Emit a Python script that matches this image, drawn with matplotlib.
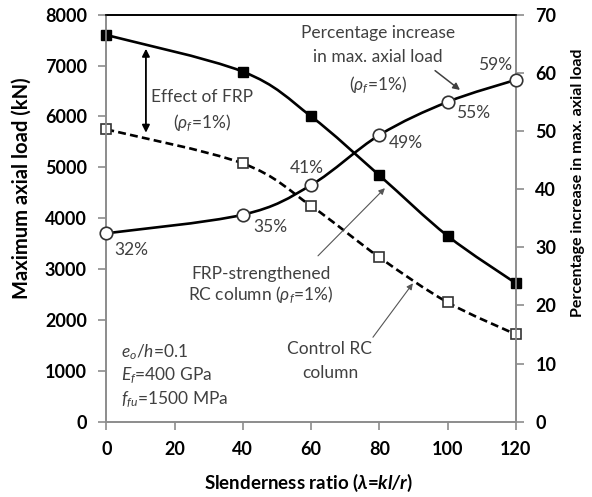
import matplotlib
matplotlib.use("Agg")
import matplotlib.pyplot as plt
from matplotlib.path import Path
from matplotlib.patches import PathPatch
import numpy as np

plt.rcParams["font.family"] = ["Lato", "DejaVu Sans"]
plt.rcParams["mathtext.fontset"] = "custom"
plt.rcParams["mathtext.rm"] = "Lato"
plt.rcParams["mathtext.it"] = "Lato:italic"
plt.rcParams["mathtext.bf"] = "Lato:bold"
plt.rcParams["mathtext.bfit"] = "Lato:bold:italic"

# data
slenderness = [0, 40, 60, 80, 100, 120]
frp_load = [7600, 6880, 6000, 4840, 3650, 2720]
control_load = [5745, 5075, 4240, 3230, 2345, 1715]
pct_increase = [32.4, 35.6, 40.7, 49.3, 55.0, 58.8]
pct_labels = ["32%", "35%", "41%", "49%", "55%", "59%"]

left_ticks = [0, 1000, 2000, 3000, 4000, 5000, 6000, 7000, 8000]
right_ticks = [0, 10, 20, 30, 40, 50, 60, 70]
x_ticks = [0, 20, 40, 60, 80, 100, 120]

TEXT = "#404040"
AXIS = "#8c8c8c"


def smooth_path(x, y):
    # Excel-like smoothed line (Catmull-Rom as cubic Bezier)
    x = np.asarray(x, float)
    y = np.asarray(y, float)
    n = len(x)
    verts = [(x[0], y[0])]
    codes = [Path.MOVETO]
    for i in range(n - 1):
        a = i - 1 if i > 0 else i
        d = i + 2 if i + 2 < n else i + 1
        c1 = (x[i] + (x[i + 1] - x[a]) / 6, y[i] + (y[i + 1] - y[a]) / 6)
        c2 = (x[i + 1] - (x[d] - x[i]) / 6, y[i + 1] - (y[d] - y[i]) / 6)
        verts += [c1, c2, (x[i + 1], y[i + 1])]
        codes += [Path.CURVE4] * 3
    return Path(verts, codes)


fig = plt.figure(figsize=(5.92, 4.97), dpi=100)
ax = fig.add_axes([0.1796, 0.1515, 0.692, 0.819])
ax2 = ax.twinx()

ax.add_patch(PathPatch(smooth_path(slenderness, frp_load), fill=False,
                       lw=1.9, color="black", zorder=3))
ax.add_patch(PathPatch(smooth_path(slenderness, control_load), fill=False,
                       lw=1.9, color="black", linestyle=(0, (3, 1.6)), zorder=3))
ax.plot(slenderness, frp_load, "s", ms=7, color="black", zorder=4, clip_on=False)
ax.plot(slenderness, control_load, "s", ms=7.5, mfc="white", mec="#333333",
        mew=1.2, zorder=4, clip_on=False)

ax2.add_patch(PathPatch(smooth_path(slenderness, pct_increase), fill=False,
                        lw=1.9, color="black", zorder=3))
ax2.plot(slenderness, pct_increase, "o", ms=9, mfc="white", mec="#333333",
         mew=1.2, zorder=4, clip_on=False)

ax.set_xlim(0, 120)
ax.set_ylim(0, 8000)
ax2.set_ylim(0, 70)
ax.set_xticks(x_ticks)
ax.set_yticks(left_ticks)
ax2.set_yticks(right_ticks)

for a in (ax, ax2):
    for s in a.spines.values():
        s.set_color(AXIS)
        s.set_linewidth(1.2)
    a.spines["top"].set_color("black")
ax.tick_params(axis="both", direction="out", length=6, width=1.2, color=AXIS,
               labelsize=13, pad=8)
ax2.tick_params(axis="y", direction="out", length=6, width=1.2, color=AXIS,
                labelsize=13, pad=8)
for lab in ax.get_xticklabels() + ax.get_yticklabels() + ax2.get_yticklabels():
    lab.set_fontweight("bold")

ax.set_xlabel(r"Slenderness ratio ($\mathbfit{\lambda}$=$\mathbfit{kl/r}$)",
              fontsize=13.5, fontweight="bold")
ax.xaxis.set_label_coords(309 / 592, 1 - 472 / 497, transform=fig.transFigure)
ax.set_ylabel("Maximum axial load (kN)", fontsize=14.5, fontweight="bold")
ax.yaxis.set_label_coords(32 / 592, 1 - 188 / 497, transform=fig.transFigure)
ax2.set_ylabel("Percentage increase in max. axial load", fontsize=11.5,
               fontweight="bold")
ax2.yaxis.set_label_coords(571 / 592, 1 - 183 / 497, transform=fig.transFigure)

# percentage labels
pct_offsets = [(18, -12), (20, -8.6), (-3, 12), (19, -6), (18, -8), (-15, 11)]
for xv, yv, lab, (dx, dy) in zip(slenderness, pct_increase, pct_labels, pct_offsets):
    ax2.annotate(lab, (xv, yv), xytext=(dx, dy), textcoords="offset points",
                 ha="center", va="center", fontsize=12.5, color=TEXT)

tkw = dict(fontsize=12.5, color=TEXT, ha="center", va="center_baseline")
ax.annotate("", xy=(11.6, 7330), xytext=(11.6, 5680),
            arrowprops=dict(arrowstyle="<|-|>", color="black", lw=1.3,
                            mutation_scale=11, shrinkA=0, shrinkB=0))
ax.text(28, 6420, "Effect of FRP", **tkw)
ax.text(28, 5920, r"($\rho_f$=1%)", **tkw)

ax.text(79.5, 7660, "Percentage increase", **tkw)
ax.text(79.5, 7200, "in max. axial load", **tkw)
ax.text(79.5, 6670, r"($\rho_f$=1%)", **tkw)
ax.annotate("", xy=(103.6, 6520), xytext=(96.3, 6900),
            arrowprops=dict(arrowstyle="-|>", color=TEXT, lw=1.1,
                            mutation_scale=10, shrinkA=0, shrinkB=0))

ax.text(45.3, 2940, "FRP-strengthened", **tkw)
ax.text(45.3, 2530, r"RC column ($\rho_f$=1%)", **tkw)
ax.annotate("", xy=(81.6, 4590), xytext=(62, 3260),
            arrowprops=dict(arrowstyle="-|>", color="#555555", lw=0.8,
                            mutation_scale=9, shrinkA=0, shrinkB=0))

ax.text(65.5, 1450, "Control RC", **tkw)
ax.text(65.5, 980, "column", **tkw)
ax.annotate("", xy=(89.8, 2720), xytext=(78.1, 1660),
            arrowprops=dict(arrowstyle="-|>", color="#555555", lw=0.8,
                            mutation_scale=9, shrinkA=0, shrinkB=0))

pkw = dict(fontsize=12.5, color=TEXT, ha="left", va="center_baseline")
ax.text(4.3, 1410, r"$e_o$/$h$=0.1", **pkw)
ax.text(4.3, 960, r"$E_f$=400 GPa", **pkw)
ax.text(4.3, 490, r"$f_{fu}$=1500 MPa", **pkw)

fig.savefig("out.png", dpi=100)
